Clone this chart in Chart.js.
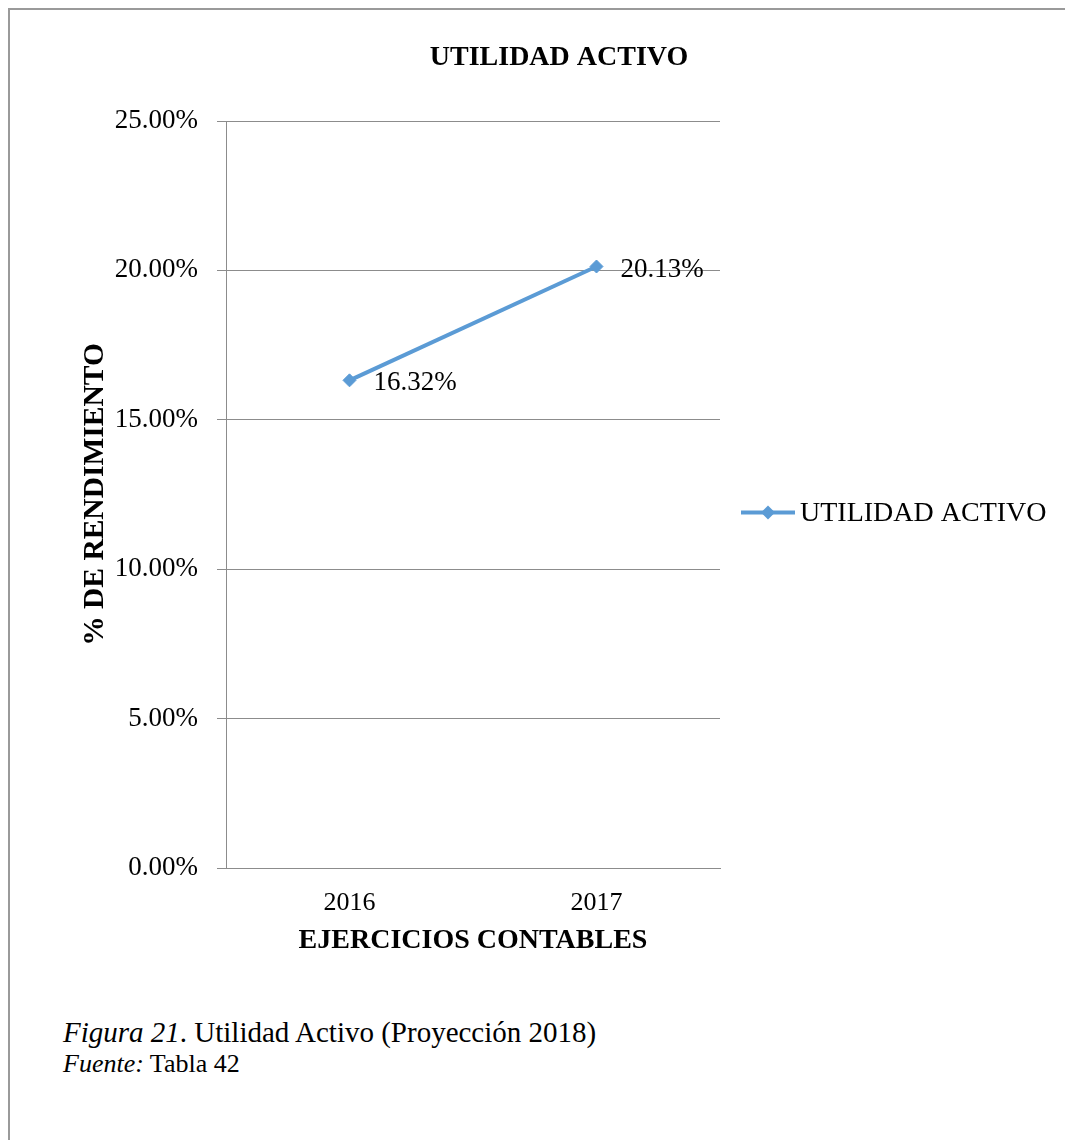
<!DOCTYPE html>
<html>
<head>
<meta charset="utf-8">
<script src="https://cdn.jsdelivr.net/npm/chart.js@4"></script>
<style>
    html, body { margin: 0; padding: 0; background: #fff; }
    .page { position: relative; width: 1065px; height: 1140px; overflow: hidden; }
    .frame { position: absolute; left: 8px; top: 8px; width: 1100px; height: 1200px; border-top: 2px solid #9a9a9a; border-left: 2px solid #9a9a9a; }
    #chart { position: absolute; left: 0; top: 0; }
    .caption { position: absolute; left: 63px; font-family: "Liberation Serif", "Times New Roman", serif; color: #000; white-space: nowrap; line-height: 1.107; }
    .cap1 { top: 1016px; font-size: 29px; }
    .cap2 { top: 1050px; font-size: 26px; }
</style>
</head>
<body>
<div class="page">
    <div class="frame"></div>
    <canvas id="chart" width="1065" height="1000"></canvas>
    <div class="caption cap1"><i>Figura 21</i>. Utilidad Activo (Proyección 2018)</div>
    <div class="caption cap2"><i>Fuente:</i> Tabla 42</div>
</div>
<script>
    const years = ['2016', '2017'];
    const utilidadActivo = [16.32, 20.13];
    const yTicks = [0, 5, 10, 15, 20, 25];
    const seriesName = 'UTILIDAD ACTIVO';
    const chartTitle = 'UTILIDAD ACTIVO';

    const SERIF = '"Liberation Serif", "Times New Roman", serif';
    const BLUE = '#5B9BD5';
    const GRID = '#8c8c8c';

    function pctLabel(v) {
        return `${Number(v).toFixed(2)}%`;
    }

    // chart title, centred on the whole chart box like Excel does
    const topTitle = {
        id: 'topTitle',
        afterDraw(chart) {
            const ctx = chart.ctx;
            ctx.save();
            ctx.font = `bold 28px ${SERIF}`;
            ctx.fillStyle = '#000';
            ctx.textAlign = 'center';
            ctx.textBaseline = 'middle';
            ctx.fillText(chartTitle, 559, 58);
            ctx.restore();
        }
    };

    // data labels to the right of each point
    const pointLabels = {
        id: 'pointLabels',
        afterDatasetsDraw(chart) {
            const ctx = chart.ctx;
            const meta = chart.getDatasetMeta(0);
            ctx.save();
            ctx.font = `27px ${SERIF}`;
            ctx.fillStyle = '#000';
            ctx.textAlign = 'left';
            ctx.textBaseline = 'middle';
            meta.data.forEach((pt, i) => {
                ctx.fillText(pctLabel(chart.data.datasets[0].data[i]), pt.x + 24, pt.y + 3);
            });
            ctx.restore();
        }
    };

    // legend drawn Excel style: line + diamond + name
    const sideLegend = {
        id: 'sideLegend',
        afterDraw(chart) {
            const ctx = chart.ctx;
            const area = chart.chartArea;
            const ds = chart.data.datasets[0];
            const x0 = area.right + 21;
            const y = (area.top + area.bottom) / 2 + 18;
            ctx.save();
            ctx.strokeStyle = ds.borderColor;
            ctx.lineWidth = 4;
            ctx.beginPath();
            ctx.moveTo(x0, y);
            ctx.lineTo(x0 + 54, y);
            ctx.stroke();
            ctx.fillStyle = ds.borderColor;
            ctx.beginPath();
            ctx.moveTo(x0 + 27, y - 7);
            ctx.lineTo(x0 + 34, y);
            ctx.lineTo(x0 + 27, y + 7);
            ctx.lineTo(x0 + 20, y);
            ctx.closePath();
            ctx.fill();
            ctx.font = `28px ${SERIF}`;
            ctx.fillStyle = '#000';
            ctx.textAlign = 'left';
            ctx.textBaseline = 'middle';
            ctx.fillText(ds.label, x0 + 59, y + 1);
            ctx.restore();
        }
    };

    new Chart(document.getElementById('chart').getContext('2d'), {
        type: 'line',
        data: {
            labels: years,
            datasets: [{
                label: seriesName,
                data: utilidadActivo,
                borderColor: BLUE,
                backgroundColor: BLUE,
                borderWidth: 4,
                pointStyle: 'rectRot',
                pointRadius: 6.5,
                pointBorderWidth: 1,
                pointBackgroundColor: BLUE,
                pointBorderColor: BLUE,
                tension: 0,
            }],
        },
        options: {
            responsive: false,
            animation: false,
            devicePixelRatio: 1,
            layout: { padding: { left: 60, right: 345, top: 121, bottom: 0 } },
            plugins: {
                legend: { display: false },
                tooltip: { enabled: false },
                title: { display: false },
            },
            scales: {
                x: {
                    offset: true,
                    afterFit(scale) { scale.height = 132; },
                    grid: { display: false, drawTicks: false },
                    border: { display: true, color: GRID, width: 1 },
                    ticks: { color: '#000', padding: 20, font: { family: SERIF, size: 26, lineHeight: 1.2 } },
                    title: {
                        display: true,
                        text: 'EJERCICIOS CONTABLES',
                        color: '#000',
                        font: { family: SERIF, size: 28, weight: 'bold', lineHeight: 1.2 },
                        padding: { top: 0, bottom: 42 },
                    },
                },
                y: {
                    min: 0,
                    max: 25,
                    afterFit(scale) { scale.width = 166; },
                    afterBuildTicks(scale) { scale.ticks = yTicks.map(v => ({ value: v })); },
                    grid: { color: GRID, lineWidth: 1, drawTicks: true, tickLength: 9 },
                    border: { display: true, color: GRID, width: 1 },
                    ticks: {
                        color: '#000',
                        padding: 19,
                        font: { family: SERIF, size: 27, lineHeight: 1.2 },
                        callback: v => pctLabel(v),
                    },
                    title: {
                        display: true,
                        text: '% DE RENDIMIENTO',
                        color: '#000',
                        font: { family: SERIF, size: 29.5, weight: 'bold', lineHeight: 1.2 },
                        padding: { top: 17.5, bottom: 0 },
                    },
                },
            },
        },
        plugins: [pointLabels, sideLegend, topTitle],
    });
</script>
</body>
</html>
